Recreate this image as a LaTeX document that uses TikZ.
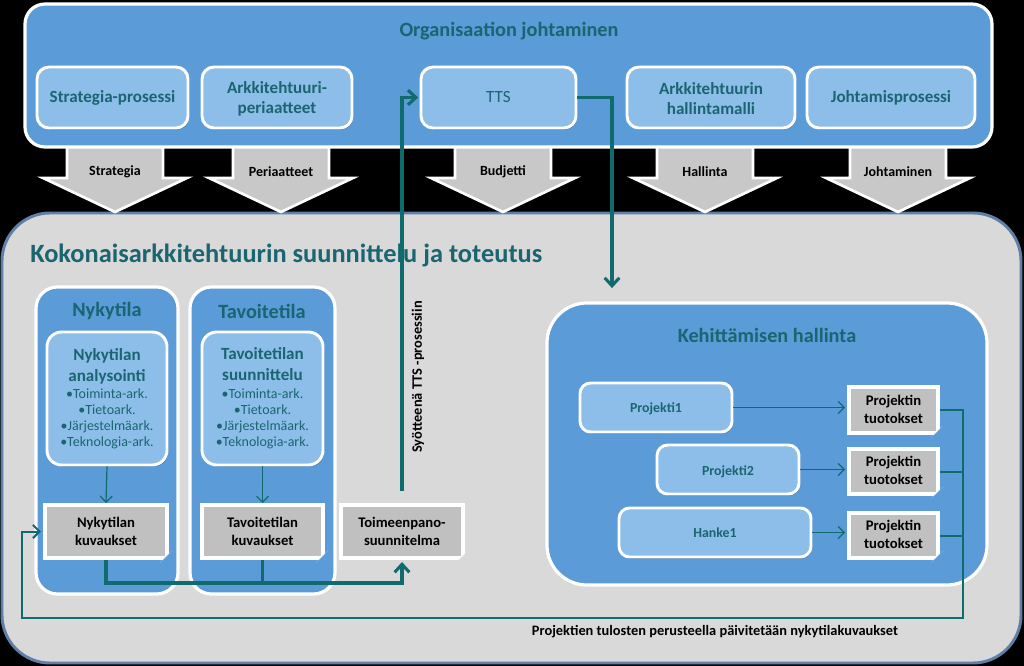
\documentclass[tikz,border=0pt]{standalone}
\usepackage{fontspec}
\setmainfont{Carlito}
\usetikzlibrary{fit,arrows.meta,shadows,calc}
\definecolor{obg}{HTML}{5A9BD8}
\definecolor{lbox}{HTML}{8DBEEA}
\definecolor{tealtext}{HTML}{1A6570}
\definecolor{tealline}{HTML}{0F6B6E}
\definecolor{greyarea}{HTML}{D9D9D9}
\definecolor{greyborder}{HTML}{5F7FA8}
\definecolor{docgrey}{HTML}{C0C0C0}
\definecolor{arrowgrey}{HTML}{C8C8C8}
\newcommand\docfold[2]{%
  \fill[#2] ($(#1.south east)+(-9,2.5)$) -- ($(#1.south east)+(2.5,-9)$) -- ($(#1.south east)+(2.5,2.5)$) -- cycle;
  \fill[white!93!black] ($(#1.south east)+(-9,2.5)$) -- ($(#1.south east)+(2.5,-9)$) -- ($(#1.south east)+(-3,-3)$) -- cycle;}
\newcommand\blkarrow[3]{%
  \path[blockarrow] (#1-48,140) -- (#1+48,140) -- (#1+48,178) -- (#1+72,178) -- (#1,212) -- (#1-72,178) -- (#1-48,178) -- cycle;
  \node[arrowlabel] (#3) at (#1,172) {#2};}
\begin{document}
\begin{tikzpicture}[x=0.75pt,y=-0.75pt,
  panel/.style={draw=white, line width=2.4pt, fill=obg, rounded corners=15pt, inner sep=0pt},
  subbox/.style={draw=white, line width=2.2pt, fill=lbox, rounded corners=9pt, inner sep=0pt,
     drop shadow={shadow xshift=0.8pt, shadow yshift=-1.2pt, opacity=0.3, fill=black}},
  docbox/.style={draw=white, line width=3pt, fill=docgrey, inner sep=0pt,
     drop shadow={shadow xshift=0.8pt, shadow yshift=-1.2pt, opacity=0.25, fill=black}},
  boxtxt/.style={inner sep=0pt, align=center, text=tealtext, font=\bfseries\fontsize{12.8}{15}\selectfont},
  bullettxt/.style={inner sep=0pt, align=center, text=tealtext, font=\fontsize{10.5}{12}\selectfont},
  doctxt/.style={inner sep=0pt, align=center, text=black, font=\bfseries\fontsize{11}{13.5}\selectfont},
  projtxt/.style={inner sep=0pt, anchor=base, text=tealtext, font=\bfseries\fontsize{10.4}{12}\selectfont},
  blockarrow/.style={fill=arrowgrey, draw=white, line width=2pt, line join=miter},
  arrowlabel/.style={font=\bfseries\fontsize{10.5}{12}\selectfont, text=black},
  ptitle/.style={font=\bfseries\fontsize{15.2}{18}\selectfont, text=tealtext},
  conn/.style={draw=tealline, line width=2.3pt},
  connarrow/.style={conn, -{Straight Barb[length=6pt,width=11pt]}},
  fbconn/.style={draw=tealline, line width=1.5pt},
  thinconn/.style={draw=tealline, line width=0.9pt, -{Straight Barb[length=4.5pt,width=9pt]}}
]
\useasboundingbox (0,0) rectangle (1024,666);
\fill[black] (0,0) rectangle (1024,666);

% lower grey area
\node[fit={(2,213)(1021,663)}, inner sep=0pt, draw=greyborder, line width=2.2pt, fill=greyarea, rounded corners=36pt] (ka) {};

% block arrows
\blkarrow{115}{Strategia}{lstrat}
\blkarrow{281}{Periaatteet}{lper}
\blkarrow{503}{Budjetti}{lbud}
\blkarrow{705}{Hallinta}{lhal}
\blkarrow{898}{Johtaminen}{ljoh}

% top panel
\node[panel, fit={(25,4)(992,147)}] (org) {};
\node[ptitle, anchor=base] (orgtitle) at (509,37) {Organisaation johtaminen};
\node[subbox, fit={(37,67)(188,128)}] (strat) {};
\node[boxtxt, anchor=base] (strattxt) at ($(strat.center)+(0,5.5)$) {Strategia-prosessi};
\node[subbox, fit={(202,67)(352,128)}] (arkper) {};
\node[boxtxt] (arkpertxt) at ($(arkper.center)+(0,1)$) {Arkkitehtuuri-\\periaatteet};
\node[subbox, fit={(421,67)(576,128)}] (tts) {};
\node[boxtxt, anchor=base, font=\fontsize{12.8}{15}\selectfont] (ttstxt) at ($(tts.center)+(0,5.5)$) {TTS};
\node[subbox, fit={(627,67)(795,128)}] (arkhal) {};
\node[boxtxt] (arkhaltxt) at ($(arkhal.center)+(0,1)$) {Arkkitehtuurin\\hallintamalli};
\node[subbox, fit={(807,67)(975,128)}] (johto) {};
\node[boxtxt, anchor=base] (johtotxt) at ($(johto.center)+(0,5.5)$) {Johtamisprosessi};

% lower title
\node[anchor=base west, inner sep=0pt, font=\bfseries\fontsize{19.8}{22}\selectfont, text=tealtext] (katitle) at (30,263) {Kokonaisarkkitehtuurin suunnittelu ja toteutus};

% columns
\node[panel, rounded corners=16pt, fit={(36,287)(178,594)}] (nyk) {};
\node[ptitle] (nyktitle) at (107,311) {Nykytila};
\node[panel, rounded corners=16pt, fit={(190,287)(335,594)}] (tav) {};
\node[ptitle] (tavtitle) at (262,311) {Tavoitetila};

\node[subbox, rounded corners=11pt, fit={(47,332)(167,465)}] (nykan) {};
\node[boxtxt, font=\bfseries\fontsize{12.8}{15.8}\selectfont] (nykantitle) at (nykan.center |- 0,366.5) {Nykytilan\\analysointi};
\node[bullettxt] (nykanlist) at (nykan.center |- 0,419) {•Toiminta-ark.\\•Tietoark.\\•Järjestelmäark.\\•Teknologia-ark.};
\node[subbox, rounded corners=11pt, fit={(202,332)(323,465)}] (tavsu) {};
\node[boxtxt, font=\bfseries\fontsize{12.8}{15.8}\selectfont] (tavsutitle) at (tavsu.center |- 0,364.5) {Tavoitetilan\\suunnittelu};
\node[bullettxt] (tavsulist) at (tavsu.center |- 0,419) {•Toiminta-ark.\\•Tietoark.\\•Järjestelmäark.\\•Teknologia-ark.};

\node[docbox, fit={(45,505)(167,558)}] (nykkuv) {};
\docfold{nykkuv}{obg}
\node[doctxt] (nykkuvtxt) at (nykkuv.center) {Nykytilan\\kuvaukset};
\node[docbox, fit={(202,505)(323,558)}] (tavkuv) {};
\docfold{tavkuv}{obg}
\node[doctxt] (tavkuvtxt) at (tavkuv.center) {Tavoitetilan\\kuvaukset};
\node[docbox, fit={(341,505)(463,558)}] (toim) {};
\docfold{toim}{greyarea}
\node[doctxt] (toimtxt) at (toim.center) {Toimeenpano-\\suunnitelma};

\draw[thinconn] (nykan.south) -- (nykkuv.north);
\draw[thinconn] (tavsu.south) -- (tavkuv.north);

% Kehittamisen hallinta
\node[panel, rounded corners=30pt, fit={(547,303)(987,585)}] (keh) {};
\node[ptitle] (kehtitle) at (767,335) {Kehittämisen hallinta};
\node[subbox, rounded corners=8pt, fit={(580,383)(732,432)}] (p1) {};
\node[projtxt] (p1txt) at ($(p1.center)+(0,4.5)$) {Projekti1};
\node[subbox, rounded corners=8pt, fit={(657,445)(799,494)}] (p2) {};
\node[projtxt] (p2txt) at ($(p2.center)+(0,5.5)$) {Projekti2};
\node[subbox, rounded corners=8pt, fit={(619,508)(811,557)}] (h1) {};
\node[projtxt] (h1txt) at ($(h1.center)+(0,4.5)$) {Hanke1};
\node[docbox, fit={(849,387)(938,433)}] (t1) {};
\docfold{t1}{obg}
\node[doctxt] (t1txt) at ($(t1.center)+(0,-1)$) {Projektin\\tuotokset};
\node[docbox, fit={(849,449)(938,494)}] (t2) {};
\docfold{t2}{obg}
\node[doctxt] (t2txt) at ($(t2.center)+(0,-1)$) {Projektin\\tuotokset};
\node[docbox, fit={(849,513)(938,558)}] (t3) {};
\docfold{t3}{obg}
\node[doctxt] (t3txt) at ($(t3.center)+(0,-1)$) {Projektin\\tuotokset};

\draw[thinconn, shorten >=1.5pt] (p1.east) -- (p1.east -| t1.west);
\draw[thinconn, shorten >=1.5pt] (p2.east) -- (p2.east -| t2.west);
\draw[thinconn, shorten >=1.5pt] (h1.east) -- (h1.east -| t3.west);

% feedback loop
\coordinate (fbR) at (963,618);
\coordinate (fbL) at (22,618);
\draw[fbconn, -{Straight Barb[length=5pt,width=10pt]}, shorten >=1.5pt] (t1.east) -- (t1.east -| fbR) -- (fbR) -- (fbL) -- (fbL |- nykkuv.west) -- (nykkuv.west);
\draw[fbconn] (t2.east) -- (t2.east -| fbR);
\draw[fbconn] (t3.east) -- (t3.east -| fbR);

% thick connectors
\coordinate (bus) at (0,583);
\draw[connarrow, shorten >=1.5pt] (nykkuv.south) -- (nykkuv.south |- bus) -- (toim.south |- bus) -- (toim.south);
\draw[conn] (tavkuv.south) -- (tavkuv.south |- bus);
\draw[connarrow, shorten <=9pt, shorten >=1pt] (toim.north) -- (toim.north |- tts.west) -- (tts.west);
\coordinate (turn) at (612,0);
\draw[connarrow, shorten >=10pt] (tts.east) -- (tts.east -| turn) -- (turn |- keh.north);

\node[rotate=90, font=\bfseries\fontsize{10.8}{12}\selectfont] (syote) at (418,377) {Syötteenä TTS -prosessiin};
\node[font=\bfseries\fontsize{10.8}{12}\selectfont] (fblabel) at (715,632) {Projektien tulosten perusteella päivitetään nykytilakuvaukset};
\end{tikzpicture}
\end{document}
